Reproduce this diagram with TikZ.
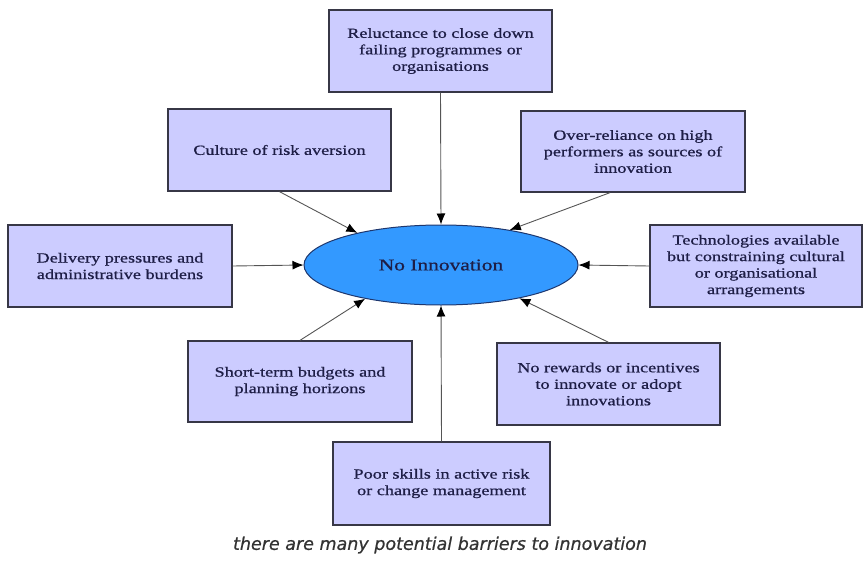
\documentclass[tikz,border=0pt]{standalone}
\usepackage{fontspec}
\setmainfont{Liberation Serif}[FakeStretch=1.3,FakeBold=0.8]
\newfontfamily\capfont{DejaVu Sans}[FakeBold=0.6]
\usetikzlibrary{arrows.meta,shapes.geometric}
\definecolor{boxfill}{RGB}{204,204,255}
\definecolor{boxline}{RGB}{55,55,70}
\definecolor{txt}{RGB}{30,30,70}
\definecolor{ellfill}{RGB}{51,153,255}
\definecolor{ellline}{RGB}{30,55,110}
\definecolor{linegray}{RGB}{85,85,85}
\definecolor{capgray}{RGB}{50,50,50}
\begin{document}
\begin{tikzpicture}[x=1pt,y=-1pt,
  box/.style={rectangle, draw=boxline, fill=boxfill, line width=1.3pt, inner sep=0pt,
    align=center, text=txt, font=\fontsize{14pt}{16.5pt}\selectfont},
  ell/.style={ellipse, draw=ellline, fill=ellfill, line width=1pt, inner sep=0pt,
    minimum width=274pt, minimum height=80pt, text=txt, font=\fontsize{16.5pt}{19pt}\selectfont},
  conn/.style={draw=linegray, line width=0.9pt, -{Latex[length=11pt,width=9pt,black]}},
  caption/.style={text=capgray, font=\capfont\itshape\fontsize{17.5pt}{20pt}\selectfont}]
\useasboundingbox (0,0) rectangle (866,564);
\node[ell] (ell) at (441,265) {No Innovation};
\node[box, minimum width=223pt, minimum height=82pt] (top) at (440.5,51)
  {Reluctance to close down\\failing programmes or\\organisations};
\node[box, minimum width=223pt, minimum height=82pt] (culture) at (279.5,150)
  {Culture of risk aversion};
\node[box, minimum width=224pt, minimum height=81pt] (over) at (633,151.5)
  {Over-reliance on high\\performers as sources of\\innovation};
\node[box, minimum width=224pt, minimum height=82pt] (delivery) at (120,266)
  {Delivery pressures and\\administrative burdens};
\node[box, minimum width=212pt, minimum height=82pt] (tech) at (756,266)
  {Technologies available\\but constraining cultural\\or organisational\\arrangements};
\node[box, minimum width=224pt, minimum height=81pt] (short) at (300,381.5)
  {Short-term budgets and\\planning horizons};
\node[box, minimum width=223pt, minimum height=82pt] (rewards) at (608.5,384)
  {No rewards or incentives\\to innovate or adopt\\innovations};
\node[box, minimum width=217pt, minimum height=83pt] (poor) at (441.5,483.5)
  {Poor skills in active risk\\or change management};
\node[caption] (cap) at (440,545) {there are many potential barriers to innovation};
\draw[conn] (top.south) -- (ell.north);
\draw[conn] (culture.south) -- (ell.159);
\draw[conn] ([xshift=-23pt]over.south) -- (ell.27);
\draw[conn] (delivery.east) -- (ell.west);
\draw[conn] (tech.west) -- (ell.east);
\draw[conn] (short.north) -- (ell.204);
\draw[conn] (rewards.north) -- (ell.337);
\draw[conn] (poor.north) -- (ell.south);
\end{tikzpicture}
\end{document}
